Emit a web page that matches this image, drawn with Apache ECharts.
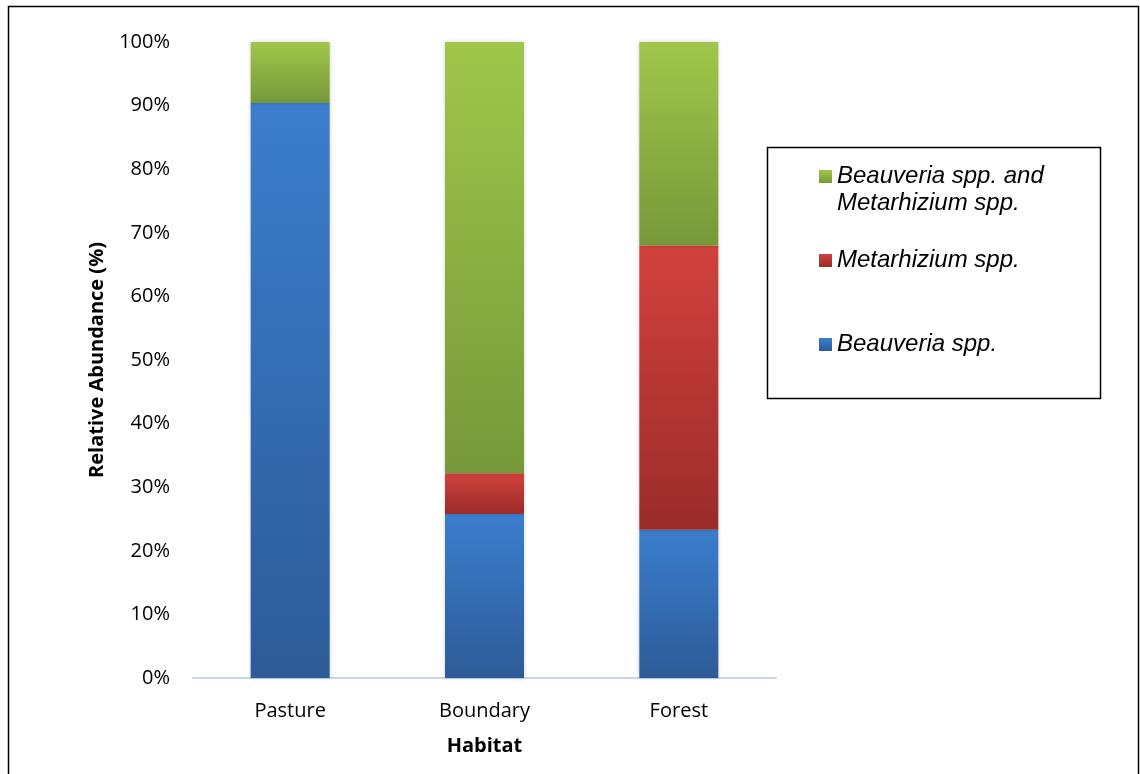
<!DOCTYPE html>
<html>
<head>
<meta charset="utf-8">
<script src="https://cdn.jsdelivr.net/npm/echarts@6/dist/echarts.min.js"></script>
<style>html,body{margin:0;padding:0;background:#fff}#c{width:1140px;height:774px}</style>
</head>
<body>
<div id="c"></div>
<script>
const categories = ['Pasture', 'Boundary', 'Forest'];
const seriesNames = ['Beauveria spp.', 'Metarhizium spp.', 'Beauveria spp. and Metarhizium spp.'];
const beauveria = [90.4, 25.8, 23.3];
const metarhizium = [0, 6.4, 44.7];
const both = [9.6, 67.8, 32.0];
const yTicks = [0, 10, 20, 30, 40, 50, 60, 70, 80, 90, 100];

function grad(top, bottom) {
  return new echarts.graphic.LinearGradient(0, 0, 0, 1, [
    { offset: 0, color: top }, { offset: 1, color: bottom }
  ]);
}
const colors = [grad('#3b7ecd', '#2d5b97'), grad('#d2413d', '#9a2c2a'), grad('#a0c64b', '#77983a')];
const seriesData = [beauveria, metarhizium, both];

const chart = echarts.init(document.getElementById('c'), null, { renderer: 'canvas' });
const font = 'Open Sans';
const legendFont = { fontFamily: 'Liberation Sans', fontStyle: 'italic', fontSize: 24, color: '#000', lineHeight: 27 };

function mkLegend(name, top, text) {
  return {
    data: [name], left: 819, top: top, padding: 0, itemWidth: 13, itemHeight: 13, itemGap: 5,
    selectedMode: false, icon: 'rect',
    formatter: () => text,
    textStyle: legendFont
  };
}

chart.setOption({
  animation: false,
  grid: { left: 193, right: 364, top: 42, bottom: 96 },
  xAxis: {
    type: 'category', data: categories,
    axisLine: { lineStyle: { color: '#c7d6ea', width: 2 } },
    axisTick: { show: false },
    axisLabel: { fontFamily: font, fontSize: 20, color: '#000', margin: 23 },
    name: 'Habitat', nameLocation: 'middle', nameGap: 58,
    nameTextStyle: { fontFamily: font, fontSize: 20, fontWeight: 'bold', color: '#000' }
  },
  yAxis: {
    type: 'value', min: 0, max: 100, interval: 10,
    axisLine: { show: false }, axisTick: { show: false }, splitLine: { show: false },
    axisLabel: { fontFamily: font, fontSize: 20, color: '#000', margin: 23, formatter: v => v + '%' },
    name: 'Relative Abundance (%)', nameLocation: 'middle', nameGap: 86,
    nameTextStyle: { fontFamily: font, fontSize: 20, fontWeight: 'bold', color: '#000' }
  },
  legend: [
    mkLegend(seriesNames[2], 136, ' \nBeauveria spp. and\nMetarhizium spp.'),
    mkLegend(seriesNames[1], 247, seriesNames[1]),
    mkLegend(seriesNames[0], 331, seriesNames[0])
  ],
  graphic: [
    { type: 'rect', shape: { x: 8.5, y: 6.5, width: 1130, height: 800 }, style: { fill: 'none', stroke: '#000', lineWidth: 1.5 }, silent: true, z: -1 },
    { type: 'rect', shape: { x: 767.5, y: 147.5, width: 333, height: 251 }, style: { fill: 'none', stroke: '#000', lineWidth: 1.5 }, silent: true, z: -1 }
  ],
  series: seriesData.map((d, i) => ({
    name: seriesNames[i], type: 'bar', stack: 'total', data: d, barWidth: 79,
    itemStyle: { color: colors[i], shadowBlur: 4, shadowColor: 'rgba(0,0,0,0.18)' }
  }))
});
</script>
</body>
</html>
